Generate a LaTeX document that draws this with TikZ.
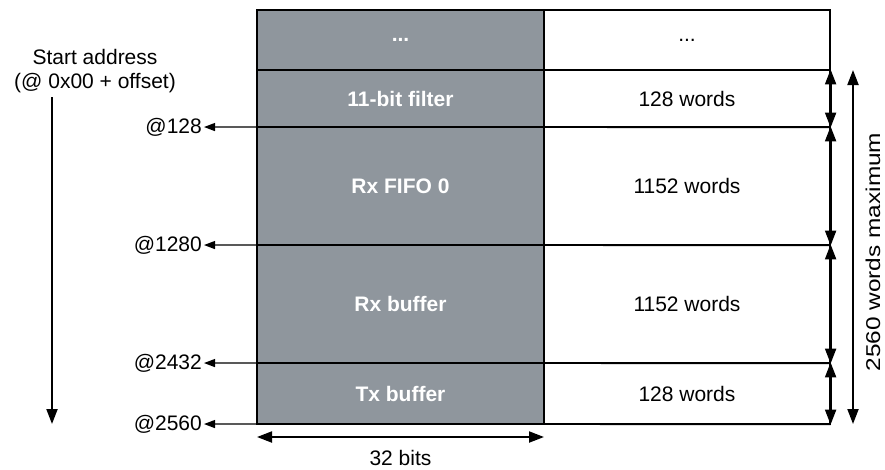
\documentclass[tikz,border=0pt]{standalone}
\usepackage{fontspec}
\setmainfont{Liberation Sans}
\usetikzlibrary{arrows.meta}
\usepackage{xcolor}
\definecolor{cellgray}{RGB}{143,150,157}

\begin{document}
\begin{tikzpicture}[x=1pt,y=-1pt,>={Triangle[length=15pt,width=11pt]},font=\fontsize{21}{24}\selectfont,line cap=butt,
  graycell/.style={draw,line width=1.2pt,fill=cellgray,text=white,font=\fontsize{21}{24}\selectfont\bfseries,minimum width=287pt,inner sep=0pt},
  whitecell/.style={draw,line width=1.2pt,fill=white,minimum width=286pt,inner sep=0pt},
  addr/.style={anchor=east,inner sep=2pt},
  addrline/.style={line width=1.2pt,-{Triangle[length=11pt,width=8pt]}},
  dim/.style={line width=2pt,<->}]
\useasboundingbox (0,0) rectangle (885,469);
% memory rows
\node[graycell,minimum height=60pt] (g0) at (400.5,40) {...};
\node[whitecell,minimum height=60pt] (w0) at (687,40) {...};
\node[graycell,minimum height=57pt] (g1) at (400.5,98.5) {11-bit filter};
\node[whitecell,minimum height=57pt] (w1) at (687,98.5) {128 words};
\node[graycell,minimum height=118pt] (g2) at (400.5,186) {Rx FIFO 0};
\node[whitecell,minimum height=118pt] (w2) at (687,186) {1152 words};
\node[graycell,minimum height=118pt] (g3) at (400.5,304) {Rx buffer};
\node[whitecell,minimum height=118pt] (w3) at (687,304) {1152 words};
\node[graycell,minimum height=61pt] (g4) at (400.5,393.5) {Tx buffer};
\node[whitecell,minimum height=61pt] (w4) at (687,393.5) {128 words};
% start addresses
\node (start) at (95,57) {Start address};
\node (offset) at (95,83) {(@ 0x00 + offset)};
\coordinate (s0) at (52,97);
\coordinate (s1) at (52,424);
\draw[line width=2pt,->] (s0) -- (s1);
\node[addr] (a128) at (204,127) {@128};
\node[addr] (a1280) at (204,245) {@1280};
\node[addr] (a2432) at (204,363) {@2432};
\node[addr] (a2560) at (204,424) {@2560};
\draw[addrline] (w1.south east) -- (a128);
\draw[addrline] (w2.south east) -- (a1280);
\draw[addrline] (w3.south east) -- (a2432);
\draw[addrline] (w4.south east) -- (a2560);
% sizes
\draw[dim] (w1.north east) -- (w1.south east);
\draw[dim] (w2.north east) -- (w2.south east);
\draw[dim] (w3.north east) -- (w3.south east);
\draw[dim] (w4.north east) -- (w4.south east);
\coordinate (mtop) at (853,70);
\coordinate (mbot) at (853,424);
\draw[dim] (mtop) -- (mbot);
\node[rotate=90,xscale=1.22,anchor=base,inner sep=0pt,font=\fontsize{20}{22}\selectfont] (maxlbl) at (880,252) {2560 words maximum};
\coordinate (bl) at (257,437);
\coordinate (br) at (544,437);
\draw[dim] (bl) -- (br);
\node (bits) at (400.5,458) {32 bits};
\end{tikzpicture}
\end{document}
